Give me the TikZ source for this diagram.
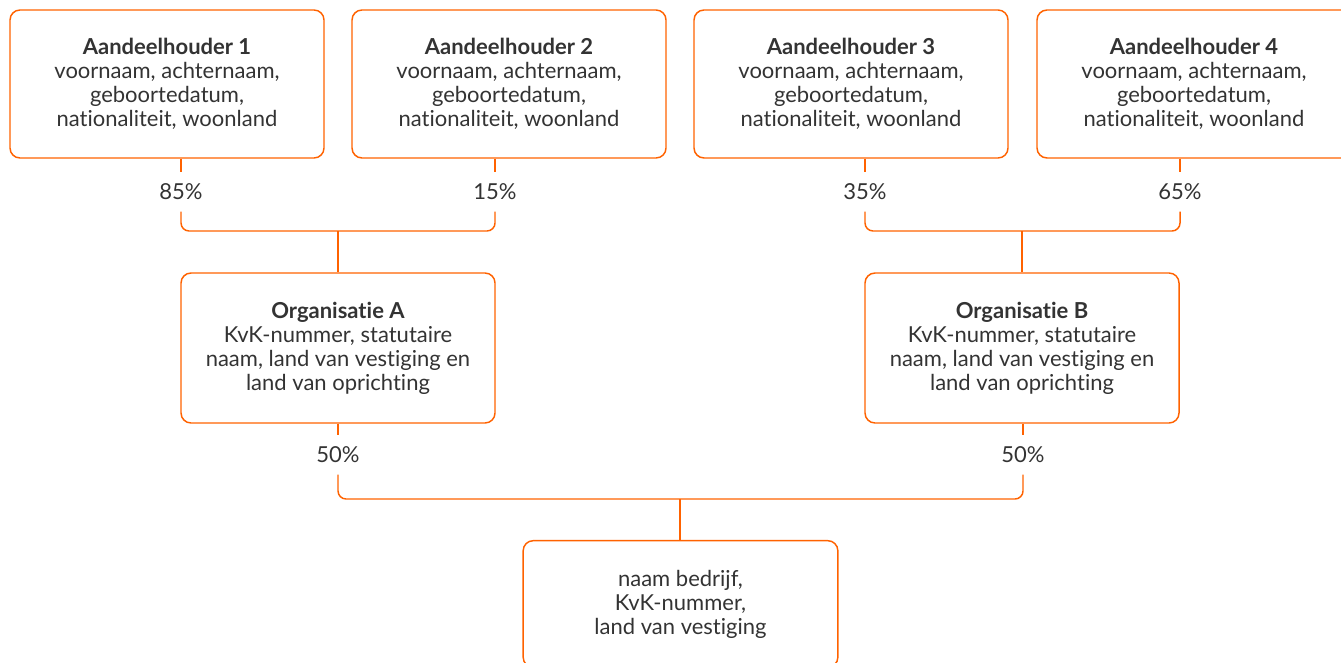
\documentclass[tikz,border=0pt]{standalone}
\usepackage{fontspec}
\setmainfont{Lato}[Ligatures=NoCommon]
\usepackage{tikz}
\usetikzlibrary{calc}
\definecolor{ingorange}{HTML}{FF6200}
\definecolor{inktext}{HTML}{333333}

\begin{document}
\begin{tikzpicture}[x=0.75pt, y=-0.75pt,
	every node/.style={text=inktext, font=\fontsize{16.5}{18}\selectfont},
	box/.style={draw=ingorange, line width=1.1pt, rounded corners=7.5pt, align=center, inner sep=0pt},
	topbox/.style={box, minimum width=235.5pt, minimum height=111pt},
	orgbox/.style={box, minimum width=235.5pt, minimum height=112.5pt},
	pct/.style={inner sep=0pt, minimum height=29pt},
	link/.style={draw=ingorange, line width=1.1pt, rounded corners=6pt}]
\clip (0,0) rectangle (1341,663);
% shareholders
\node[topbox] (h1) at (167,84)  {\textbf{Aandeelhouder 1}\\voornaam, achternaam,\\geboortedatum,\\nationaliteit, woonland};
\node[topbox] (h2) at (509,84)  {\textbf{Aandeelhouder 2}\\voornaam, achternaam,\\geboortedatum,\\nationaliteit, woonland};
\node[topbox] (h3) at (851,84)  {\textbf{Aandeelhouder 3}\\voornaam, achternaam,\\geboortedatum,\\nationaliteit, woonland};
\node[topbox] (h4) at (1194,84) {\textbf{Aandeelhouder 4}\\voornaam, achternaam,\\geboortedatum,\\nationaliteit, woonland};
% organisations
\node[orgbox] (oA) at (338,348)  {\textbf{Organisatie A}\\KvK-nummer, statutaire\\naam, land van vestiging en\\land van oprichting};
\node[orgbox] (oB) at (1022,348) {\textbf{Organisatie B}\\KvK-nummer, statutaire\\naam, land van vestiging en\\land van oprichting};
\node[box, minimum width=236pt, minimum height=95pt] (bd) at (680.5,604) {naam bedrijf,\\KvK-nummer,\\land van vestiging};
% percentages
\node[pct] (p1) at (181,192)  {85\%};
\node[pct] (p2) at (495,192)  {15\%};
\node[pct] (p3) at (865,192)  {35\%};
\node[pct] (p4) at (1180,192) {65\%};
\node[pct] (pA) at (338,455)  {50\%};
\node[pct] (pB) at (1023,455) {50\%};
\coordinate (jA) at (338,231);
\coordinate (jB) at (1022,231);
\coordinate (jC) at (680,499);
% connectors
\foreach \h/\p in {h1/p1, h2/p2, h3/p3, h4/p4, oA/pA, oB/pB}
	\draw[link] (\h.south -| \p) -- (\p.north);
\draw[link] (p1.south) |- (jA) -| (p2.south);
\draw[link] (p3.south) |- (jB) -| (p4.south);
\draw[link] (pA.south) |- (jC) -| (pB.south);
\draw[link] (jA) -- (oA.north);
\draw[link] (jB) -- (oB.north);
\draw[link] (jC) -- (bd.north -| jC);
\end{tikzpicture}
\end{document}
